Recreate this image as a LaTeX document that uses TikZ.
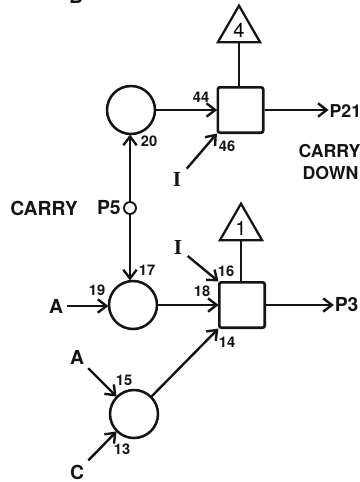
\documentclass[tikz,border=0pt]{standalone}
\usepackage{fontspec}
\setmainfont{TeX Gyre Heros}
\newfontfamily\serifI{Liberation Serif}
\usetikzlibrary{arrows.meta,shapes.geometric}
\tikzset{
  px/.style={x=0.75pt,y=-0.75pt},
  wire/.style={line width=1.8pt,black!92},
  arr/.style={wire,-{Straight Barb[length=6.5pt,width=10pt,line width=1.8pt]},shorten >=-0.5pt},
  gatecirc/.style={circle,draw=black!92,line width=1.9pt,minimum size=36pt,inner sep=0pt},
  gatesq/.style={rectangle,rounded corners=1.5pt,draw=black!92,line width=2pt,minimum size=34pt,inner sep=0pt},
  tri/.style={regular polygon,regular polygon sides=3,draw=black!92,line width=1.7pt,minimum size=36.5pt,inner sep=0pt,font=\fontsize{15}{15}\selectfont},
  bigtxt/.style={font=\bfseries\fontsize{14.5}{15}\selectfont,inner sep=3pt,text=black!92},
  edgetxt/.style={font=\bfseries\fontsize{13.3}{14}\selectfont,inner sep=1pt,text=black!92},
  smalltxt/.style={font=\bfseries\fontsize{11}{11}\selectfont,inner sep=0pt,text=black!92},
  itxt/.style={font=\serifI\bfseries\fontsize{16}{16}\selectfont,inner sep=4pt,text=black!92}
}
\begin{document}
\begin{tikzpicture}[px]
\useasboundingbox (0,0) rectangle (360,482);
\clip (0,0) rectangle (360,482);
% shapes
\node[gatecirc] (c1) at (131,110) {};
\node[gatecirc] (c2) at (133,305) {};
\node[gatecirc] (c3) at (134,414) {};
\node[gatesq] (s1) at (240.5,110) {};
\node[gatesq] (s2) at (242,305) {};
\node[tri] (t4) at (239,30) {4};
\node[tri] (t1) at (241,228) {1};
\node[circle,draw=black!92,line width=1.4pt,minimum width=9pt,inner sep=0pt] (p5dot) at (130,208) {};
% labels
\node[bigtxt] (bb) at (76,-4) {B};
\node[edgetxt,anchor=west] (p21) at (328,111) {P21};
\node[edgetxt,anchor=west] (carryd) at (297,151) {CARRY};
\node[edgetxt,anchor=west] (down) at (301,173) {DOWN};
\node[bigtxt,inner sep=0pt,anchor=west] (carry) at (10,208) {CARRY};
\node[bigtxt,inner sep=0pt,anchor=east] (p5) at (121,208) {P5};
\node[bigtxt,inner sep=1pt,anchor=east] (p3) at (360,305) {P3};
\node[bigtxt] (a1) at (56,306) {A};
\node[bigtxt] (a2) at (77,357) {A};
\node[bigtxt] (cc) at (77,472) {C};
\node[itxt] (i1) at (177,180) {I};
\node[itxt] (i2) at (178,248) {I};
\node[smalltxt] at (201,97) {44};
\node[smalltxt] at (149,141) {20};
\node[smalltxt] at (227,146) {46};
\node[smalltxt] at (147,270) {17};
\node[smalltxt] at (97,290) {19};
\node[smalltxt] at (202,291) {18};
\node[smalltxt] at (226,271) {16};
\node[smalltxt] at (227,342) {14};
\node[smalltxt] at (124,380) {15};
\node[smalltxt] at (122,449) {13};
% connectors
\draw[wire] (t4.south) -- (s1.north -| t4.south);
\draw[wire] (t1.south) -- (s2.north -| t1.south);
\draw[arr] (c1.east) -- (s1.west);
\draw[arr] (s1.east) -- (s1.east -| p21.west);
\draw[arr] (i1) -- (s1.south west);
\draw[arr] (p5dot.north) -- (p5dot.north |- c1.south);
\draw[arr] (p5dot.south) -- (p5dot.south |- c2.north);
\draw[arr] (a1.east) -- (a1.east -| c2.west);
\draw[arr] (c2.east) -- (s2.west);
\draw[arr] (s2.east) -- (s2.east -| p3.west);
\draw[arr] (i2) -- (s2.north west);
\draw[arr] (c3.45) -- (s2.south west);
\draw[arr] (a2) -- (c3.135);
\draw[arr] (cc) -- (c3.225);
\end{tikzpicture}
\end{document}
